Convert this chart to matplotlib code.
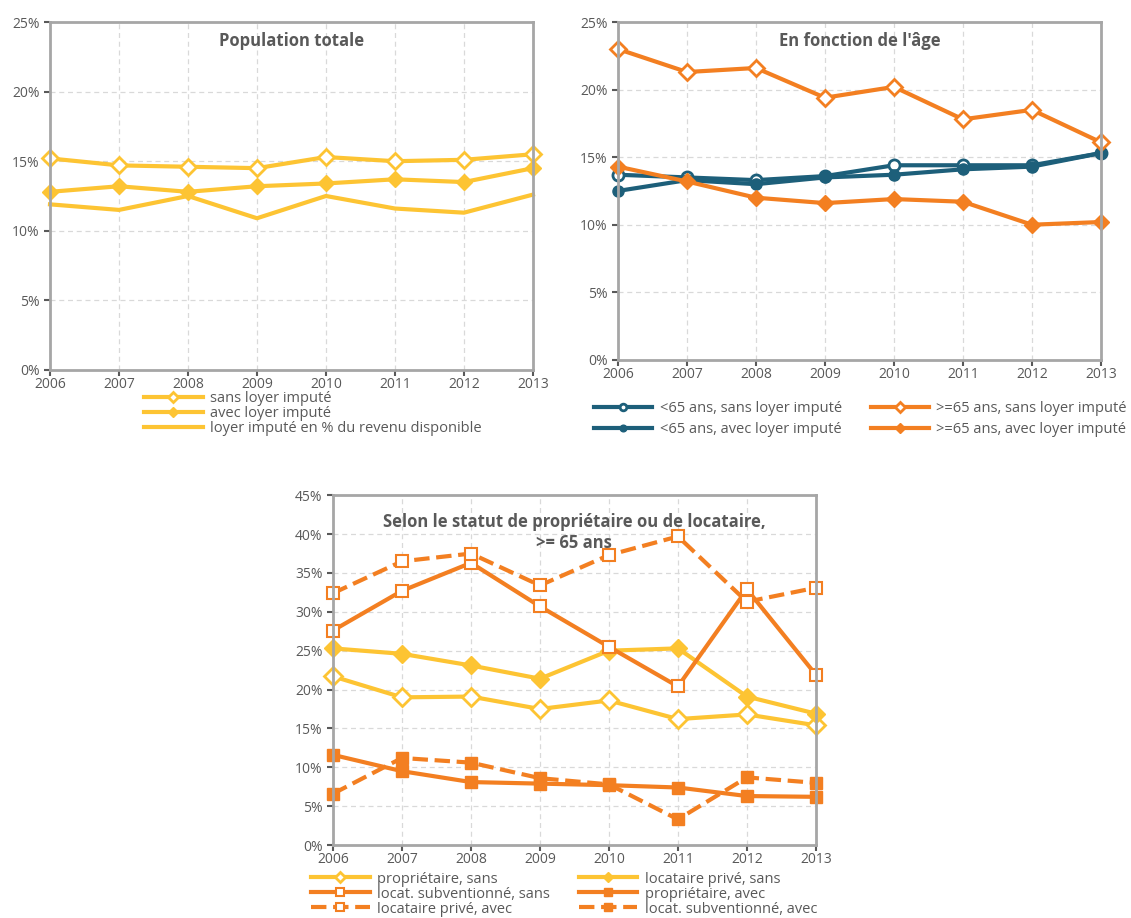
import matplotlib.pyplot as plt
from matplotlib.ticker import PercentFormatter

plt.rcParams['font.family'] = ['Open Sans', 'DejaVu Sans']
plt.rcParams['lines.markersize'] = 8

years = [2006, 2007, 2008, 2009, 2010, 2011, 2012, 2013]

# Population totale
tot_sans = [15.2, 14.7, 14.6, 14.5, 15.3, 15.0, 15.1, 15.5]
tot_avec = [12.8, 13.2, 12.8, 13.2, 13.4, 13.7, 13.5, 14.5]
tot_loyer = [11.9, 11.5, 12.5, 10.9, 12.5, 11.6, 11.3, 12.6]

# En fonction de l'age
jeune_sans = [13.7, 13.5, 13.3, 13.6, 14.4, 14.4, 14.4, 15.3]
jeune_avec = [12.5, 13.3, 13.0, 13.5, 13.7, 14.1, 14.3, 15.3]
vieux_sans = [23.0, 21.3, 21.6, 19.4, 20.2, 17.8, 18.5, 16.1]
vieux_avec = [14.3, 13.2, 12.0, 11.6, 11.9, 11.7, 10.0, 10.2]

# Statut >= 65 ans
prop_sans = [21.7, 19.0, 19.1, 17.5, 18.6, 16.2, 16.8, 15.4]
priv_sans = [25.3, 24.6, 23.1, 21.4, 25.0, 25.3, 19.1, 16.9]
subv_sans = [27.6, 32.7, 36.3, 30.7, 25.5, 20.4, 32.9, 21.9]
prop_avec = [11.6, 9.5, 8.1, 7.9, 7.7, 7.4, 6.3, 6.2]
priv_avec = [32.4, 36.5, 37.5, 33.4, 37.3, 39.7, 31.3, 33.1]
subv_avec = [6.6, 11.2, 10.6, 8.6, 7.8, 3.3, 8.7, 8.0]

YEL = '#FDC433'
ORA = '#F37F21'
TEAL = '#1D5F7A'
GRAY = '#A6A6A6'
TXT = '#595959'

fig = plt.figure(figsize=(11.31, 9.18), dpi=100)


def style(ax, ymax, title, ty):
    ax.set_xlim(2006, 2013)
    ax.set_ylim(0, ymax)
    ax.set_xticks(years)
    ax.set_yticks(range(0, ymax + 1, 5))
    ax.yaxis.set_major_formatter(PercentFormatter(decimals=0))
    ax.grid(True, color='#D9D9D9', linestyle=(0, (4, 3)), linewidth=0.9)
    for s in ax.spines.values():
        s.set_color(GRAY)
        s.set_linewidth(2)
    ax.tick_params(colors=TXT, labelsize=10, length=4, width=1.5)
    ax.tick_params(axis='x', pad=1)
    ax.text(0.5, ty, title, transform=ax.transAxes, ha='center', va='top',
            fontsize=12, fontweight='bold', color=TXT)


def leg(ax, handles, anchor, ncol, spacing, colsp):
    ax.legend(handles=handles, loc='upper left', bbox_to_anchor=anchor, ncol=ncol,
              frameon=False, fontsize=10.5, handlelength=4, markerscale=0.6,
              labelspacing=spacing, columnspacing=colsp, borderpad=0,
              handletextpad=0.5, labelcolor=TXT)


ax1 = fig.add_axes([0.0442, 0.597, 0.427, 0.379])
style(ax1, 25, 'Population totale', 0.97)
a, = ax1.plot(years, tot_sans, color=YEL, lw=3, marker='D', mfc='white', mew=2, clip_on=False, label='sans loyer imputé')
b, = ax1.plot(years, tot_avec, color=YEL, lw=3, marker='D', clip_on=False, label='avec loyer imputé')
c, = ax1.plot(years, tot_loyer, color=YEL, lw=3, clip_on=False, label='loyer imputé en % du revenu disponible')
leg(ax1, [a, b, c], (0.18, -0.04), 1, 0.0, 1)

ax2 = fig.add_axes([0.5464, 0.608, 0.427, 0.368])
style(ax2, 25, "En fonction de l'âge", 0.97)
a, = ax2.plot(years, jeune_sans, color=TEAL, lw=3, marker='o', mfc='white', mew=2, clip_on=False, label='<65 ans, sans loyer imputé')
b, = ax2.plot(years, jeune_avec, color=TEAL, lw=3, marker='o', clip_on=False, label='<65 ans, avec loyer imputé')
c, = ax2.plot(years, vieux_sans, color=ORA, lw=3, marker='D', mfc='white', mew=2, clip_on=False, label='>=65 ans, sans loyer imputé')
d, = ax2.plot(years, vieux_avec, color=ORA, lw=3, marker='D', clip_on=False, label='>=65 ans, avec loyer imputé')
leg(ax2, [a, b, c, d], (-0.065, -0.1), 2, 0.45, 2.0)

ax3 = fig.add_axes([0.2944, 0.0795, 0.427, 0.381])
style(ax3, 45, 'Selon le statut de propriétaire ou de locataire,\n>= 65 ans', 0.95)
h1, = ax3.plot(years, prop_sans, color=YEL, lw=3, marker='D', ms=9, mfc='white', mew=2, clip_on=False, label='propriétaire, sans')
h2, = ax3.plot(years, priv_sans, color=YEL, lw=3, marker='D', ms=9, clip_on=False, label='locataire privé, sans')
h3, = ax3.plot(years, subv_sans, color=ORA, lw=3, marker='s', ms=9, mfc='white', mew=1.5, clip_on=False, label='locat. subventionné, sans')
h4, = ax3.plot(years, prop_avec, color=ORA, lw=3, marker='s', ms=9, clip_on=False, label='propriétaire, avec')
h5, = ax3.plot(years, priv_avec, color=ORA, lw=3, ls='--', marker='s', ms=9, mfc='white', mew=1.5, clip_on=False, label='locataire privé, avec')
h6, = ax3.plot(years, subv_avec, color=ORA, lw=3, ls='--', marker='s', ms=9, clip_on=False, label='locat. subventionné, avec')
leg(ax3, [h1, h3, h5, h2, h4, h6], (-0.06, -0.055), 2, 0.0, 2.0)

plt.savefig('out.png')
